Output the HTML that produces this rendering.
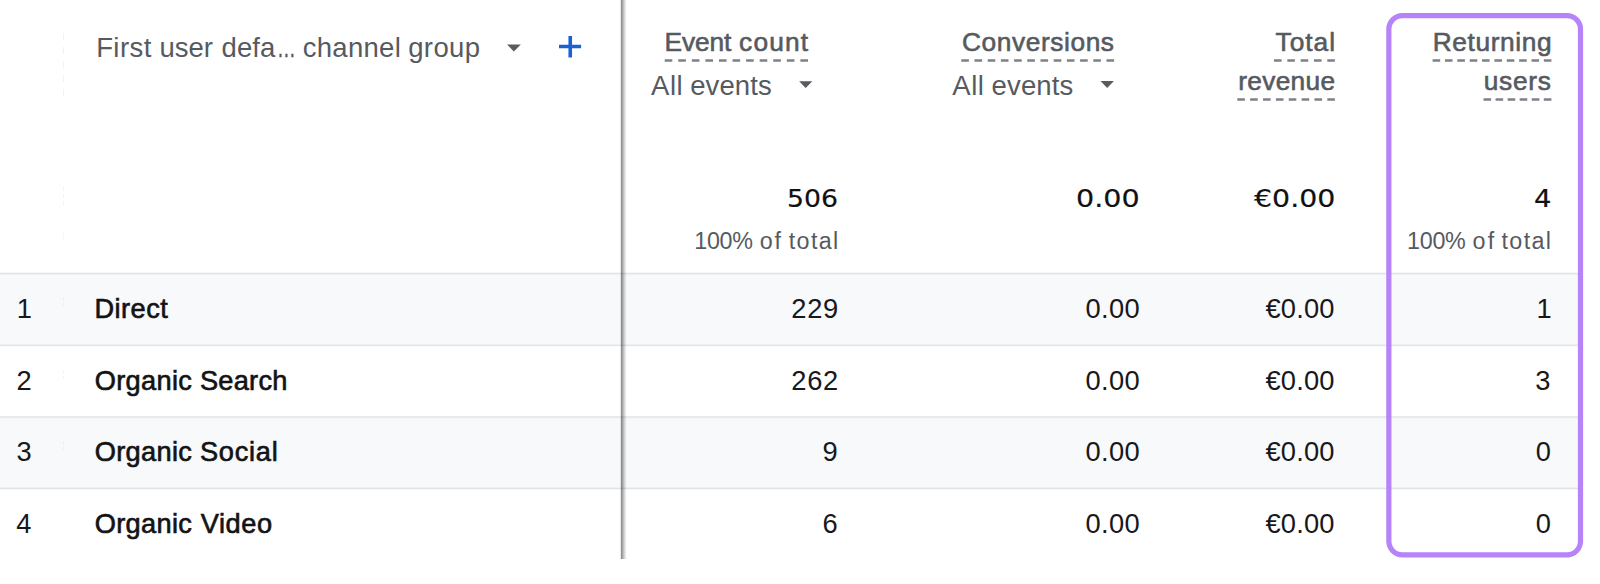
<!DOCTYPE html>
<html lang="en">
<head>
<meta charset="utf-8">
<title>Report table</title>
<style>
html,body{margin:0;padding:0;background:#fff;}
body{width:1600px;height:584px;position:relative;overflow:hidden;font-family:"Liberation Sans",sans-serif;}
.row{position:absolute;left:0;width:1581px;height:72px;}
.row.alt{background:#f8f9fa;}
.ln{position:absolute;left:0;width:1581px;}
.t{position:absolute;white-space:nowrap;line-height:1;}
.w{position:relative;}
.hd{color:#565a5f;font-size:27.5px;}
.mh{color:#565a5f;font-size:26.3px;-webkit-text-stroke:0.6px #565a5f;}
.sub{color:#565a5f;font-size:27.5px;}
.tot{color:#111;font-family:"DejaVu Sans","Liberation Sans",sans-serif;font-size:25.6px;-webkit-text-stroke:0.2px #111;}
.pct{color:#565a5f;font-size:23.3px;}
.idx{color:#18181b;font-size:27.3px;}
.dim{color:#131316;font-size:27.2px;-webkit-text-stroke:0.65px #131316;}
.val{color:#18181b;font-size:27.3px;}
svg.ov{position:absolute;left:0;top:0;}
</style>
</head>
<body>
<div class="row alt" style="top:274px;height:71px"></div>
<div class="row alt" style="top:417px;height:71px"></div>
<div class="ln" style="top:272px;height:3px;background:linear-gradient(#f6f7f8 0 1px,#e3e4e6 1px 2px,#eef0f2 2px 3px)"></div>
<div class="ln" style="top:344px;height:3px;background:linear-gradient(#eeeff1 0 1px,#e4e5e7 1px 2px,#fafafb 2px 3px)"></div>
<div class="ln" style="top:416px;height:3px;background:linear-gradient(#e8e9eb 0 1px,#e9eaec 1px 2px,#f4f5f7 2px 3px)"></div>
<div class="ln" style="top:487px;height:3px;background:linear-gradient(#f0f1f3 0 1px,#e1e2e4 1px 2px,#f7f7f8 2px 3px)"></div>

<div class="g"><span class="t hd" style="left:96.13px;top:34px;letter-spacing:0.44px">First</span> <span class="t hd" style="left:159.39px;top:34px;letter-spacing:0.01px">user</span> <span class="t hd" style="left:221.57px;top:34px;letter-spacing:0.05px">defa</span><span class="t hd" style="left:277.28px;top:34px;transform:scaleX(0.6816);transform-origin:0 0;-webkit-text-stroke:0.4px #565a5f">…</span> <span class="t hd" style="left:302.74px;top:34px;letter-spacing:0.28px">channel</span> <span class="t hd" style="left:408.21px;top:34px;letter-spacing:0.36px">group</span></div>
<div class="g"><span class="t mh" style="left:664.49px;top:29px;letter-spacing:-0.09px">Event</span> <span class="t mh" style="left:739.08px;top:29px;letter-spacing:1.18px">count</span></div>
<div class="g"><span class="t sub" style="left:651.02px;top:72px;letter-spacing:0.54px">All</span> <span class="t sub" style="left:690.17px;top:72px;letter-spacing:0.12px">events</span></div>
<div class="g"><span class="t mh" style="left:961.96px;top:29px;letter-spacing:0.59px">Conversions</span></div>
<div class="g"><span class="t sub" style="left:952.22px;top:72px;letter-spacing:0.60px">All</span> <span class="t sub" style="left:991.61px;top:72px;letter-spacing:0.12px">events</span></div>
<div class="g"><span class="t mh" style="left:1275.47px;top:29px;letter-spacing:1.01px">Total</span></div>
<div class="g"><span class="t mh" style="left:1238.16px;top:68px;letter-spacing:0.32px">revenue</span></div>
<div class="g"><span class="t mh" style="left:1432.64px;top:29px;letter-spacing:0.63px">Returning</span></div>
<div class="g"><span class="t mh" style="left:1483.71px;top:68px;letter-spacing:0.75px">users</span></div>
<div class="g"><span class="t tot" style="left:787.46px;top:186px;transform:scaleX(1.0433);transform-origin:0 0">506</span></div>
<div class="g"><span class="t pct" style="left:694.30px;top:230px;letter-spacing:-0.32px">100%</span> <span class="t pct" style="left:759.82px;top:230px;letter-spacing:1.85px">of</span> <span class="t pct" style="left:788.69px;top:230px;letter-spacing:1.38px">total</span></div>
<div class="g"><span class="t tot" style="left:1076.09px;top:186px;transform:scaleX(1.1174);transform-origin:0 0">0.00</span></div>
<div class="g"><span class="t tot" style="left:1253.95px;top:186px;transform:scaleX(1.1104);transform-origin:0 0">€0.00</span></div>
<div class="g"><span class="t tot" style="left:1533.91px;top:186px;transform:scaleX(1.0678);transform-origin:0 0">4</span></div>
<div class="g"><span class="t pct" style="left:1407.07px;top:230px;letter-spacing:-0.29px">100%</span> <span class="t pct" style="left:1472.58px;top:230px;letter-spacing:2.19px">of</span> <span class="t pct" style="left:1501.56px;top:230px;letter-spacing:1.34px">total</span></div>
<div class="g"><span class="t idx" style="left:16.74px;top:295px">1</span></div>
<div class="g"><span class="t dim" style="left:94.38px;top:295px;letter-spacing:0.50px">Direct</span></div>
<div class="g"><span class="t val" style="left:791.37px;top:295px;letter-spacing:0.64px">229</span></div>
<div class="g"><span class="t val" style="left:1085.60px;top:295px;letter-spacing:0.29px">0.00</span></div>
<div class="g"><span class="t val" style="left:1265.41px;top:295px;letter-spacing:0.21px">€0.00</span></div>
<div class="g"><span class="t val" style="left:1536.45px;top:295px">1</span></div>
<div class="g"><span class="t idx" style="left:16.61px;top:367px">2</span></div>
<div class="g"><span class="t dim" style="left:94.78px;top:367px;letter-spacing:0.32px">Organic</span> <span class="t dim" style="left:199.96px;top:367px;letter-spacing:0.25px">Search</span></div>
<div class="g"><span class="t val" style="left:791.24px;top:367px;letter-spacing:0.75px">262</span></div>
<div class="g"><span class="t val" style="left:1085.60px;top:367px;letter-spacing:0.29px">0.00</span></div>
<div class="g"><span class="t val" style="left:1265.41px;top:367px;letter-spacing:0.21px">€0.00</span></div>
<div class="g"><span class="t val" style="left:1535.30px;top:367px">3</span></div>
<div class="g"><span class="t idx" style="left:16.38px;top:438px">3</span></div>
<div class="g"><span class="t dim" style="left:94.78px;top:438px;letter-spacing:0.32px">Organic</span> <span class="t dim" style="left:199.89px;top:438px;letter-spacing:0.77px">Social</span></div>
<div class="g"><span class="t val" style="left:822.47px;top:438px">9</span></div>
<div class="g"><span class="t val" style="left:1085.60px;top:438px;letter-spacing:0.29px">0.00</span></div>
<div class="g"><span class="t val" style="left:1265.41px;top:438px;letter-spacing:0.21px">€0.00</span></div>
<div class="g"><span class="t val" style="left:1535.64px;top:438px">0</span></div>
<div class="g"><span class="t idx" style="left:16.18px;top:510px">4</span></div>
<div class="g"><span class="t dim" style="left:94.78px;top:510px;letter-spacing:0.32px">Organic</span> <span class="t dim" style="left:200.73px;top:510px;letter-spacing:0.58px">Video</span></div>
<div class="g"><span class="t val" style="left:822.60px;top:510px">6</span></div>
<div class="g"><span class="t val" style="left:1085.60px;top:510px;letter-spacing:0.29px">0.00</span></div>
<div class="g"><span class="t val" style="left:1265.41px;top:510px;letter-spacing:0.21px">€0.00</span></div>
<div class="g"><span class="t val" style="left:1535.64px;top:510px">0</span></div>
<!-- graphics overlay -->
<svg class="ov" width="1600" height="584" viewBox="0 0 1600 584">
  <defs>
    <linearGradient id="vs" x1="0" x2="1" y1="0" y2="0">
      <stop offset="0" stop-color="#85888c"/>
      <stop offset="0.35" stop-color="#a4a7ab"/>
      <stop offset="1" stop-color="#ffffff" stop-opacity="0"/>
    </linearGradient>
  </defs>
  <g shape-rendering="crispEdges" fill="#04080f">
    <rect x="620" y="0" width="1" height="559" fill-opacity="0.09"/>
    <rect x="621" y="0" width="1" height="559" fill-opacity="0.45"/>
    <rect x="622" y="0" width="1" height="559" fill-opacity="0.352"/>
    <rect x="623" y="0" width="1" height="559" fill-opacity="0.257"/>
    <rect x="624" y="0" width="1" height="559" fill-opacity="0.166"/>
    <rect x="625" y="0" width="1" height="559" fill-opacity="0.079"/>
    <rect x="626" y="0" width="1" height="559" fill-opacity="0.02"/>
  </g>
  <!-- dropdown triangles -->
  <polygon points="507,44.4 520.8,44.4 513.9,51.4" fill="#585c61"/>
  <polygon points="799.1,81.2 812.3,81.2 805.7,88.1" fill="#585c61"/>
  <polygon points="1100.5,81.1 1113.9,81.1 1107.2,88" fill="#585c61"/>
  <!-- plus -->
  <path d="M570.25 35.9v21.6M559 46.5h22.1" stroke="#1a62d3" stroke-width="3.6" fill="none"/>
  <!-- dashed underlines -->
  <g stroke="#7d8186" stroke-width="2.5" fill="none">
    <line x1="664.7" x2="808" y1="60.4" y2="60.4" stroke-dasharray="7.6 5.97"/>
    <line x1="961.3" x2="1114.1" y1="60.4" y2="60.4" stroke-dasharray="7.6 5.6"/>
    <line x1="1274" x2="1334.9" y1="60.4" y2="60.4" stroke-dasharray="7.6 5.72"/>
    <line x1="1237.3" x2="1334.9" y1="99.55" y2="99.55" stroke-dasharray="7.6 5.26"/>
    <line x1="1432.6" x2="1551.4" y1="60.4" y2="60.4" stroke-dasharray="7.6 4.76"/>
    <line x1="1483.5" x2="1551.4" y1="99.55" y2="99.55" stroke-dasharray="7.6 4.46"/>
  </g>
  <!-- faint column resize handles -->
  <g stroke-width="1" fill="none">
    <line x1="63.5" x2="63.5" y1="33" y2="102" stroke="#f1f2f3" stroke-dasharray="7 7"/>
    <line x1="63.5" x2="63.5" y1="187" y2="207" stroke="#f3f4f5" stroke-dasharray="4 3"/>
    <line x1="63.5" x2="63.5" y1="233" y2="240" stroke="#f4f5f6"/>
    <line x1="63.5" x2="63.5" y1="298" y2="308" stroke="#eceef0" stroke-dasharray="3 2"/>
    <line x1="63.5" x2="63.5" y1="371" y2="380" stroke="#f1f2f3" stroke-dasharray="3 2"/>
    <line x1="63.5" x2="63.5" y1="442" y2="451" stroke="#eceef0" stroke-dasharray="3 2"/>
  </g>
  <!-- highlight box -->
  <rect x="1388.85" y="15.6" width="191.65" height="539.25" rx="13.5" ry="13.5" fill="none" stroke="#b683f9" stroke-width="5.2"/>
</svg>
</body>
</html>
